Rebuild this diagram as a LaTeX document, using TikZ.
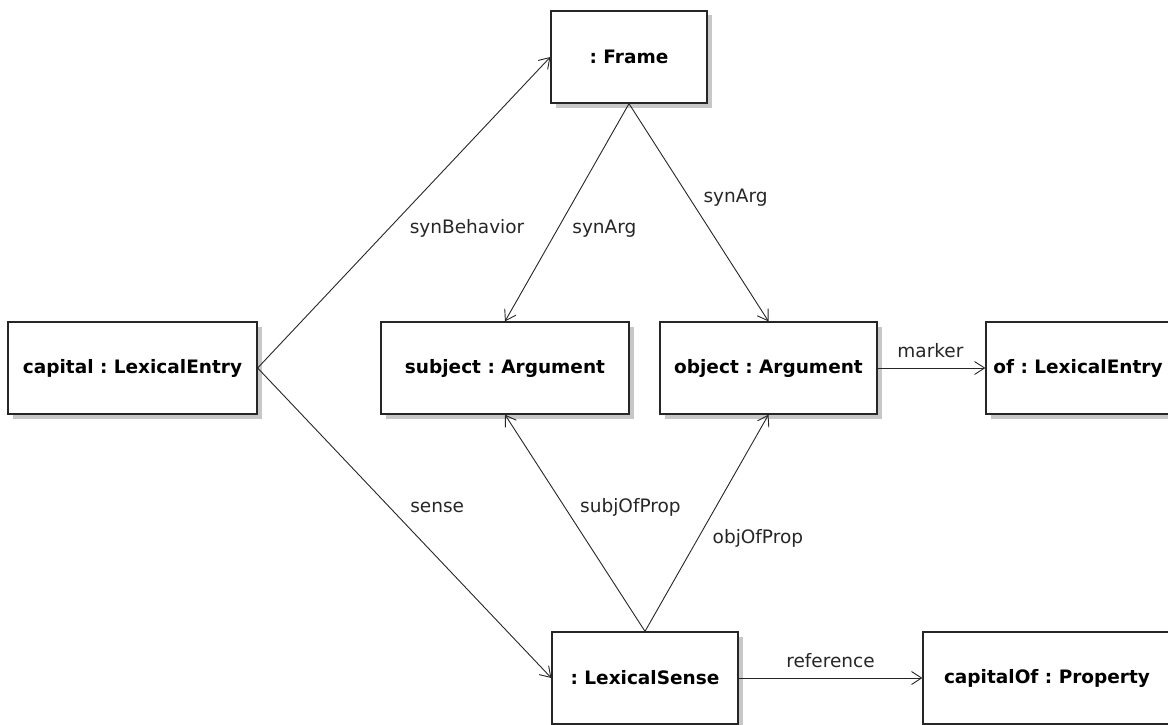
\documentclass[tikz,border=0pt]{standalone}
\usepackage{fontspec}
\setmainfont{DejaVu Sans}
\frenchspacing
\usetikzlibrary{arrows.meta,shadows}
\tikzset{
    obj/.style={rectangle, draw=black!85, line width=1.3pt, fill=white, inner sep=0pt, minimum height=92pt,
        font=\fontsize{18.5}{22}\selectfont\bfseries,
        drop shadow={shadow xshift=4.5pt, shadow yshift=-4.5pt, fill=black!22, opacity=1}},
    lbl/.style={inner sep=0pt, font=\fontsize{18.5}{22}\selectfont, text=black!85},
    rel/.style={draw=black!85, line width=0.9pt, -{Straight Barb[length=10pt, width=13pt, line width=0.9pt]}},
}
\begin{document}
\begin{tikzpicture}[x=1pt, y=-1pt]
    \useasboundingbox (0,0) rectangle (1168,725);
    \begin{scope}
    \clip (0,0) rectangle (1168,725);
    % objects
    \node[obj, minimum width=156pt] (frame) at (629,57) {: Frame};
    \node[obj, minimum width=249pt] (capital) at (132.5,368) {capital : LexicalEntry};
    \node[obj, minimum width=248pt] (subject) at (505,368) {subject : Argument};
    \node[obj, minimum width=217pt] (object) at (768.5,368) {object : Argument};
    \node[obj, minimum width=184pt] (of) at (1078,368) {of : LexicalEntry};
    \node[obj, minimum width=186pt] (lexsense) at (645,678) {: LexicalSense};
    \node[obj, minimum width=248pt] (capitalof) at (1047,678) {capitalOf : Property};

    % relations
    \draw[rel] (capital.east) -- node[lbl, pos=0.45, anchor=west, xshift=20pt] {synBehavior} (frame.west);
    \draw[rel] (capital.east) -- node[lbl, pos=0.45, anchor=west, xshift=20pt] {sense} (lexsense.west);
    \draw[rel] (frame.south) -- node[lbl, pos=0.573, anchor=west, xshift=14pt] {synArg} (subject.north);
    \draw[rel] (frame.south) -- node[lbl, pos=0.431, anchor=west, xshift=14pt] {synArg} (object.north);
    \draw[rel] (lexsense.north) -- node[lbl, pos=0.573, anchor=west, xshift=15pt] {subjOfProp} (subject.south);
    \draw[rel] (lexsense.north) -- node[lbl, pos=0.431, anchor=west, xshift=14pt] {objOfProp} (object.south);
    \draw[rel] (object.east) -- node[lbl, pos=0.49, above=10pt] {marker} (of.west);
    \draw[rel] (lexsense.east) -- node[lbl, above=10pt] {reference} (capitalof.west);
    \end{scope}
\end{tikzpicture}
\end{document}
